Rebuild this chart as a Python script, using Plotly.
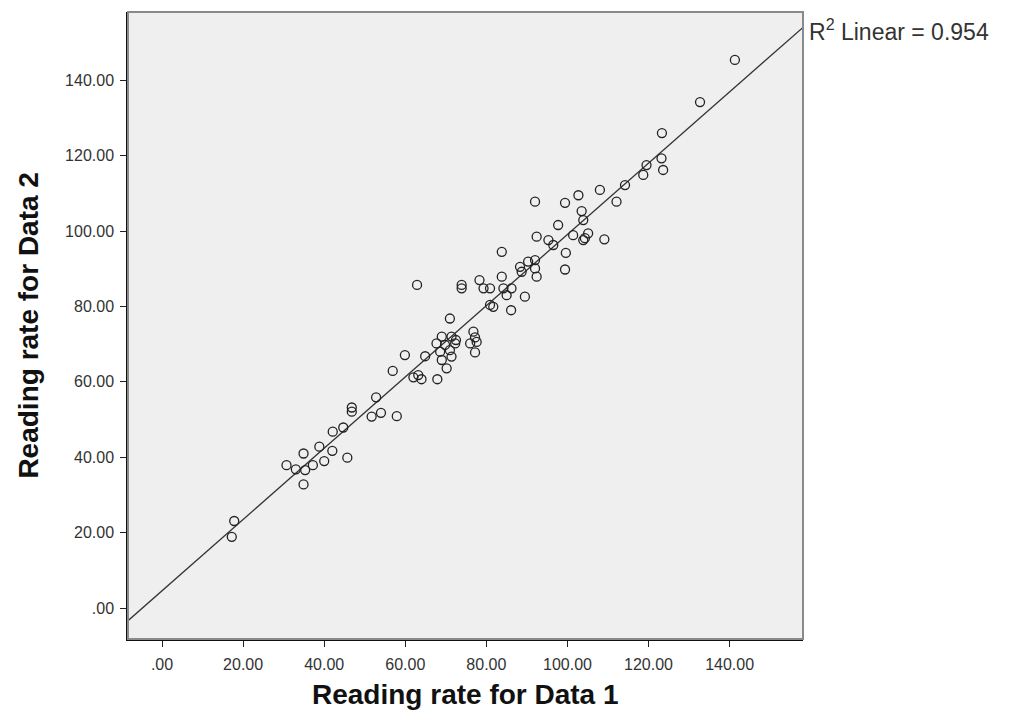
import plotly.graph_objects as go

# Data (Reading rate for Data 1 vs Data 2)
data1 = [17.2, 17.8, 30.7, 33.0, 34.9, 34.9, 35.3, 37.2, 38.8, 40.0, 42.0, 42.1, 44.7, 45.7,
         46.8, 46.8, 51.7, 52.8, 54.0, 57.9, 56.9, 59.9, 64.9, 62.0, 63.2, 64.0, 67.9, 71.0,
         69.0, 71.4, 72.5, 67.7, 69.8, 72.3, 68.6, 71.0, 69.0, 71.4, 70.2, 76.8, 77.2, 76.0,
         77.6, 77.2, 80.9, 81.7, 86.1, 62.9, 83.8, 92.4, 95.3, 96.5, 101.4, 104.3, 99.6, 99.4,
         73.9, 73.9, 78.3, 79.3, 80.9, 83.8, 84.2, 86.2, 85.0, 88.3, 88.7, 90.3, 92.0, 92.0,
         92.4, 89.5, 92.0, 99.4, 102.7, 108.0, 112.1, 114.2, 118.7, 119.5, 123.2, 123.6, 103.5,
         103.9, 97.7, 105.1, 103.9, 109.1, 123.3, 132.7, 141.3]
data2 = [18.9, 23.1, 37.9, 36.8, 41.0, 32.8, 36.6, 37.9, 42.8, 39.0, 41.7, 46.8, 47.9, 39.9,
         53.2, 52.1, 50.8, 55.9, 51.8, 50.9, 62.9, 67.1, 66.8, 61.2, 61.8, 60.7, 60.7, 76.8,
         72.0, 72.0, 71.1, 70.2, 69.8, 70.2, 68.0, 68.4, 65.8, 66.7, 63.6, 73.3, 71.8, 70.2,
         70.6, 67.8, 80.4, 79.9, 79.0, 85.7, 94.5, 98.5, 97.6, 96.3, 98.9, 98.1, 94.2, 89.8,
         85.7, 84.8, 87.0, 84.8, 84.8, 87.9, 84.8, 84.8, 83.0, 90.5, 89.2, 91.9, 92.3, 90.1,
         87.9, 82.6, 107.8, 107.5, 109.5, 110.9, 107.8, 112.2, 114.9, 117.5, 119.3, 116.2, 105.3,
         102.9, 101.6, 99.4, 97.6, 97.8, 126.0, 134.2, 145.4]

tick_vals = [0, 20, 40, 60, 80, 100, 120, 140]
tick_text = [".00", "20.00", "40.00", "60.00", "80.00", "100.00", "120.00", "140.00"]

fit_slope = 0.945
fit_intercept = 4.6
r2_label = "R<sup>2</sup> Linear = 0.954"

x_range = [-8.4, 158.1]
y_range = [-8.2, 158.1]

fig = go.Figure()

fit_x = x_range
fit_y = [fit_intercept + fit_slope * v for v in fit_x]
fig.add_trace(go.Scatter(x=fit_x, y=fit_y, mode="lines",
                         line=dict(color="#333333", width=1.3),
                         hoverinfo="skip", showlegend=False, cliponaxis=True))

fig.add_trace(go.Scatter(x=data1, y=data2, mode="markers",
                         marker=dict(symbol="circle-open", size=9,
                                     color="#222222", line=dict(width=1.3)),
                         showlegend=False))

axis_common = dict(
    tickvals=tick_vals, ticktext=tick_text,
    showgrid=False, zeroline=False,
    showline=True, linecolor="#111111", linewidth=1.5,
    ticks="outside", ticklen=6, tickwidth=1.3, tickcolor="#222222",
    tickfont=dict(family="Liberation Sans, Arial", size=16, color="#333333"),
)

fig.update_xaxes(range=x_range, ticklabelstandoff=4, **axis_common)
fig.update_yaxes(range=y_range, ticklabelstandoff=3, **axis_common)

fig.add_shape(type="rect", xref="paper", yref="paper", x0=0, y0=0, x1=1, y1=1,
              line=dict(color="#8a8a8a", width=2), layer="above")

fig.add_annotation(text="Reading rate for Data 1", xref="paper", yref="paper",
                   x=0.5, y=-0.089, xanchor="center", yanchor="middle", showarrow=False,
                   font=dict(family="Liberation Sans, Arial", size=28, color="#111111",
                             weight="bold"))
fig.add_annotation(text="Reading rate for Data 2", xref="paper", yref="paper",
                   x=-0.148, y=0.50, xanchor="center", yanchor="middle", showarrow=False,
                   textangle=-90,
                   font=dict(family="Liberation Sans, Arial", size=28, color="#111111",
                             weight="bold"))
fig.add_annotation(text=r2_label, xref="paper", yref="paper",
                   x=1.006, y=0.971, xanchor="left", yanchor="middle", showarrow=False,
                   font=dict(family="Liberation Sans, Arial", size=23, color="#333333"))

# The page body adds an 8px margin, so the figure is sized and offset to compensate.
fig.update_layout(
    width=1019, height=705,
    margin=dict(l=120, r=224, t=4, b=74),
    paper_bgcolor="white", plot_bgcolor="#efefef",
    showlegend=False,
)

fig.write_html("out.html")
